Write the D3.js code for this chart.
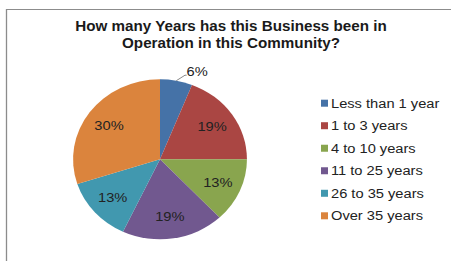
<!DOCTYPE html>
<html>
<head>
<meta charset="utf-8">
<script src="https://cdn.jsdelivr.net/npm/d3@7"></script>
<style>
  html, body { margin: 0; padding: 0; background: #fff; }
  svg { display: block; }
</style>
</head>
<body>
<svg id="chart"></svg>
<script>
const categories = ["Less than 1 year", "1 to 3 years", "4 to 10 years", "11 to 25 years", "26 to 35 years", "Over 35 years"];
const values = [6, 19, 13, 19, 13, 30];
const colors = ["#4572A7", "#AA4643", "#89A54E", "#71588F", "#4198AF", "#DB843D"];
const titleLines = ["How many Years has this Business been in", "Operation in this Community?"];

const width = 451;
const height = 261;
// the original picture is stretched sideways a little, so draw in a narrower box
const vbWidth = 415;
const sx = width / vbWidth;
const px = v => v / sx; // screen x -> viewBox x

const font = "'Liberation Sans', Arial, sans-serif";

const svg = d3.select("#chart")
    .attr("width", width)
    .attr("height", height)
    .attr("viewBox", `0 0 ${vbWidth} ${height}`)
    .attr("preserveAspectRatio", "none")
    .style("font-family", font);

// frame (top and left edges only are visible)
svg.append("path")
    .attr("d", `M${px(6.5)},${height} V9.5 H${vbWidth}`)
    .attr("fill", "none")
    .attr("stroke", "#8c8c8c")
    .attr("stroke-width", 1.2);

// title
svg.append("g")
    .selectAll("text")
    .data(titleLines)
    .join("text")
    .attr("x", px(231))
    .attr("y", (d, i) => 31.5 + i * 17)
    .attr("text-anchor", "middle")
    .style("font-size", "14px")
    .style("font-weight", "bold")
    .attr("fill", "#1a1a1a")
    .text(d => d);

// pie
const cx = px(160), cy = 159.3, r = 80;
const pie = d3.pie().sort(null).value(d => d.value);
const arcs = pie(categories.map((c, i) => ({ name: c, value: values[i], color: colors[i] })));
const arc = d3.arc().innerRadius(0).outerRadius(r);
const labelArc = d3.arc().innerRadius(58).outerRadius(58);
const edgeArc = d3.arc().innerRadius(r).outerRadius(r);

const g = svg.append("g").attr("transform", `translate(${cx},${cy})`);

g.selectAll("path.slice")
    .data(arcs)
    .join("path")
    .attr("class", "slice")
    .attr("d", arc)
    .attr("fill", d => d.data.color);

const total = d3.sum(values);
const pct = d => Math.round(d.data.value / total * 100) + "%";

// labels inside the larger slices
g.selectAll("text.inside")
    .data(arcs.filter(d => d.data.value >= 10))
    .join("text")
    .attr("class", "inside")
    .attr("transform", d => `translate(${labelArc.centroid(d)})`)
    .attr("dy", "0.35em")
    .attr("text-anchor", "middle")
    .style("font-size", "13.5px")
    .attr("fill", "#222")
    .text(pct);

// small slice: label outside with a leader line
const small = arcs.filter(d => d.data.value < 10);
small.forEach(d => {
    const p0 = edgeArc.centroid(d);
    const p1 = [p0[0] + 8, p0[1] - 5.5];
    g.append("polyline")
        .attr("points", [p0, p1, [p1[0] + 1.5, p1[1]]].map(p => p.join(",")).join(" "))
        .attr("fill", "none")
        .attr("stroke", "#808080")
        .attr("stroke-width", 0.9);
    g.append("text")
        .attr("x", p1[0] + 1.5)
        .attr("y", p1[1] + 0.8)
        .style("font-size", "13.5px")
        .attr("fill", "#222")
        .text(pct(d));
});

// legend
const legend = svg.append("g");
const rowY = d3.scaleLinear().domain([0, categories.length - 1]).range([107.7, 220.3]);
const item = legend.selectAll("g")
    .data(categories)
    .join("g")
    .attr("transform", (d, i) => `translate(0,${rowY(i)})`);

item.append("rect")
    .attr("x", px(321))
    .attr("y", -8)
    .attr("width", px(328) - px(321))
    .attr("height", 7)
    .attr("fill", (d, i) => colors[i]);

item.append("text")
    .attr("x", px(331))
    .attr("y", 0)
    .style("font-size", "13.5px")
    .attr("fill", "#222")
    .text(d => d);
</script>
</body>
</html>
